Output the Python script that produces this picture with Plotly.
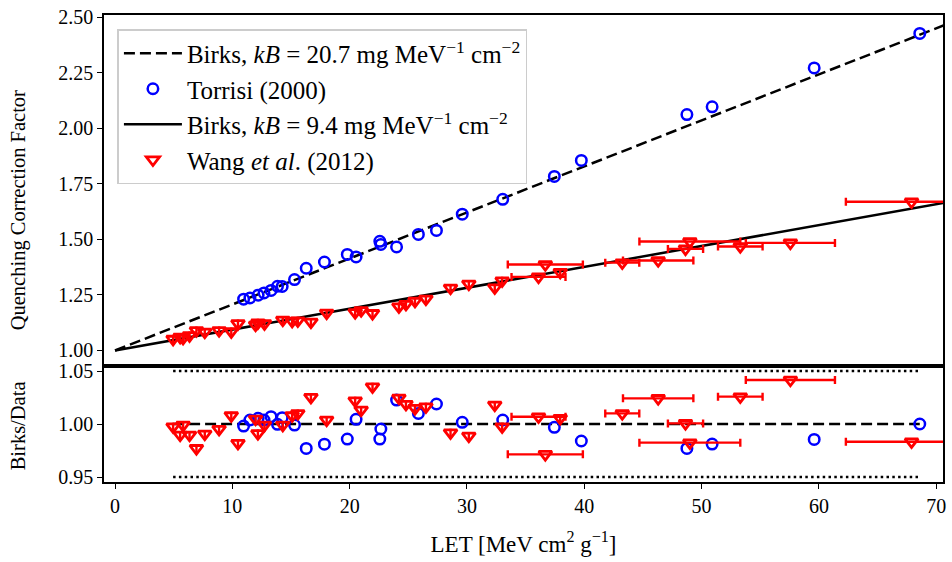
import plotly.graph_objects as go

# ---------------- data ----------------
kb_dashed = 0.0207   # Birks kB = 20.7 mg MeV^-1 cm^-2  (g MeV^-1 cm^-2)
kb_solid = 0.0094    # Birks kB = 9.4 mg MeV^-1 cm^-2

torrisi_let = [10.96, 11.5, 12.2, 12.7, 13.3, 13.85, 14.25, 15.3, 16.3, 17.85,
               19.8, 20.55, 22.57, 22.66, 24.0, 25.86, 27.4, 29.6, 33.05, 37.45,
               39.75, 48.75, 50.9, 59.6, 68.6]
torrisi_q = [1.231, 1.236, 1.249, 1.259, 1.270, 1.289, 1.288, 1.319, 1.370, 1.398,
             1.432, 1.421, 1.491, 1.477, 1.466, 1.522, 1.540, 1.613, 1.680, 1.783,
             1.855, 2.061, 2.096, 2.271, 2.426]
torrisi_ratio = [0.9981, 1.0038, 1.0054, 1.0038, 1.0069, 0.9997, 1.0060, 0.9990, 0.9770, 0.9810,
                 0.9858, 1.0044, 0.9858, 0.9953, 1.0226, 1.0100, 1.0189, 1.0016, 1.0038, 0.9969,
                 0.9840, 0.9770, 0.9811, 0.9855, 1.0000]

wang_let = [4.95, 5.55, 5.8, 6.35, 6.94, 7.65, 8.87, 9.91, 10.48, 11.98,
            12.18, 12.74, 14.3, 15.1, 15.58, 16.7, 18.04, 20.47, 20.98, 21.95,
            24.2, 24.8, 25.57, 26.5, 28.6, 30.16, 32.37, 33.0, 36.1, 36.68,
            37.95, 43.24, 46.3, 48.63, 49.0, 53.3, 57.57, 67.9]
wang_let_err = [0, 0, 0, 0, 0, 0, 0, 0, 0, 0,
                0, 0, 0, 0, 0, 0, 0, 0, 0, 0,
                0, 0, 0, 0, 0, 0, 0, 0, 2.3, 3.2,
                0, 1.45, 3.0, 1.5, 4.3, 1.9, 3.8, 5.6]
wang_q = [1.051, 1.060, 1.055, 1.067, 1.090, 1.083, 1.090, 1.085, 1.121, 1.115,
          1.125, 1.121, 1.137, 1.132, 1.134, 1.128, 1.169, 1.171, 1.180, 1.167,
          1.197, 1.208, 1.222, 1.232, 1.281, 1.299, 1.282, 1.314, 1.331, 1.387,
          1.352, 1.395, 1.405, 1.457, 1.490, 1.468, 1.484, 1.669]
wang_ratio = [0.9975, 0.9896, 0.9990, 0.9896, 0.9770, 0.9906, 0.9950, 1.0079, 0.9818, 1.0047,
              0.9910, 0.9990, 0.9990, 1.0079, 1.0100, 1.0252, 1.0038, 1.0220, 1.0132, 1.0352,
              1.0245, 1.0186, 1.0148, 1.0163, 0.9918, 0.9887, 1.0180, 0.9975, 1.0069, 0.9714,
              1.0054, 1.0100, 1.0242, 1.0006, 0.9824, 1.0258, 1.0415, 0.9833]

x_ticks = [0, 10, 20, 30, 40, 50, 60, 70]
y_top_ticks = [1.00, 1.25, 1.50, 1.75, 2.00, 2.25, 2.50]
y_bot_ticks = [0.95, 1.00, 1.05]
band = [0.95, 1.00, 1.05]

# ---------------- style ----------------
FONT = "Liberation Serif"
FS_TICK = 20
FS_LEG = 25
FS_XT = 23
FS_YT = 20.5
BLUE = "#0000ff"
RED = "#ff0000"

x_range = [-0.94, 70.58]
line_x = [0, 80]
ratio_x = [min(wang_let + torrisi_let), max(wang_let + torrisi_let)]

circ = dict(symbol="circle-open", size=10.5, color=BLUE, line=dict(width=2.5, color=BLUE))
tri = dict(symbol="triangle-down-open", size=11.5, color=RED, line=dict(width=2.8, color=RED))

fig = go.Figure()

# top panel
fig.add_trace(go.Scatter(
    x=line_x, y=[1 + kb_dashed * v for v in line_x], mode="lines",
    line=dict(color="black", width=2.5, dash="11px,5px"),
    name="Birks, <i>kB</i> = 20.7 mg MeV<sup>−1</sup> cm<sup>−2</sup>",
    xaxis="x2", yaxis="y", legendgroup="a"))
fig.add_trace(go.Scatter(
    x=torrisi_let, y=torrisi_q, mode="markers", marker=circ,
    name="Torrisi (2000)", xaxis="x2", yaxis="y", legendgroup="b"))
fig.add_trace(go.Scatter(
    x=line_x, y=[1 + kb_solid * v for v in line_x], mode="lines",
    line=dict(color="black", width=2.5),
    name="Birks, <i>kB</i> = 9.4 mg MeV<sup>−1</sup> cm<sup>−2</sup>",
    xaxis="x2", yaxis="y", legendgroup="c"))
fig.add_trace(go.Scatter(
    x=wang_let, y=wang_q, mode="markers", marker=tri,
    error_x=dict(type="data", array=wang_let_err, color=RED, thickness=2.4, width=4),
    name="Wang <i>et al</i>. (2012)", xaxis="x2", yaxis="y", legendgroup="d"))

# bottom panel
for yv, dash in zip(band, ["2.5px,3.3px", "11px,5px", "2.5px,3.3px"]):
    fig.add_trace(go.Scatter(
        x=ratio_x, y=[yv, yv], mode="lines",
        line=dict(color="black", width=2.5, dash=dash),
        showlegend=False, xaxis="x", yaxis="y2", hoverinfo="skip"))
fig.add_trace(go.Scatter(
    x=torrisi_let, y=torrisi_ratio, mode="markers", marker=circ,
    showlegend=False, xaxis="x", yaxis="y2"))
fig.add_trace(go.Scatter(
    x=wang_let, y=wang_ratio, mode="markers", marker=tri,
    error_x=dict(type="data", array=wang_let_err, color=RED, thickness=2.4, width=4),
    showlegend=False, xaxis="x", yaxis="y2"))

split = 116.5 / 467.0
axis_common = dict(showline=True, linecolor="black", linewidth=1.6, mirror=True,
                   showgrid=False, zeroline=False, ticklen=5,
                   tickwidth=1.4, tickcolor="black",
                   tickfont=dict(family=FONT, size=FS_TICK, color="black"))

PLOT_L, PLOT_W = 104, 842


def px_to_paper_x(px):
    return (px - PLOT_L) / PLOT_W


fig.update_layout(
    width=952, height=562,
    margin=dict(l=PLOT_L, r=952 - PLOT_L - PLOT_W, t=15, b=80),
    paper_bgcolor="white", plot_bgcolor="white",
    font=dict(family=FONT, size=FS_TICK, color="black"),
    showlegend=True,
    legend=dict(x=0.016, y=0.970, xanchor="left", yanchor="top",
                bgcolor="rgba(255,255,255,0.85)", bordercolor="#cccccc", borderwidth=1.5,
                font=dict(family=FONT, size=FS_LEG, color="black"),
                tracegroupgap=0, itemwidth=58),
    xaxis=dict(domain=[0, 1], anchor="y2", range=x_range, tickvals=x_ticks,
               ticktext=[str(v) for v in x_ticks], ticks="outside",
               title=dict(text="LET [MeV cm<sup>2</sup> g<sup>−1</sup>]",
                          font=dict(family=FONT, size=FS_XT), standoff=20),
               **axis_common),
    xaxis2=dict(domain=[0, 1], anchor="y", matches="x", range=x_range,
                showticklabels=False, ticks="", **axis_common),
    yaxis=dict(domain=[split, 1], anchor="x2", range=[0.9325, 2.509], ticks="outside",
               tickvals=y_top_ticks, ticktext=[f"{v:.2f}" for v in y_top_ticks],
               **axis_common),
    yaxis2=dict(domain=[0, split], anchor="x", range=[0.9453, 1.0552], ticks="outside",
                tickvals=y_bot_ticks, ticktext=[f"{v:.2f}" for v in y_bot_ticks],
                **axis_common),
    annotations=[
        dict(text="Quenching Correction Factor", textangle=-90, showarrow=False,
             xref="paper", yref="paper", x=px_to_paper_x(18), y=(482 - 210) / 467.0,
             xanchor="center", yanchor="middle",
             font=dict(family=FONT, size=FS_YT, color="black")),
        dict(text="Birks/Data", textangle=-90, showarrow=False,
             xref="paper", yref="paper", x=px_to_paper_x(18), y=(482 - 426) / 467.0,
             xanchor="center", yanchor="middle",
             font=dict(family=FONT, size=FS_YT, color="black")),
    ],
)

fig.write_html(
    "out.html",
    config={"displayModeBar": False},
    post_script="document.body.style.margin='0';document.body.style.overflow='hidden';",
)
